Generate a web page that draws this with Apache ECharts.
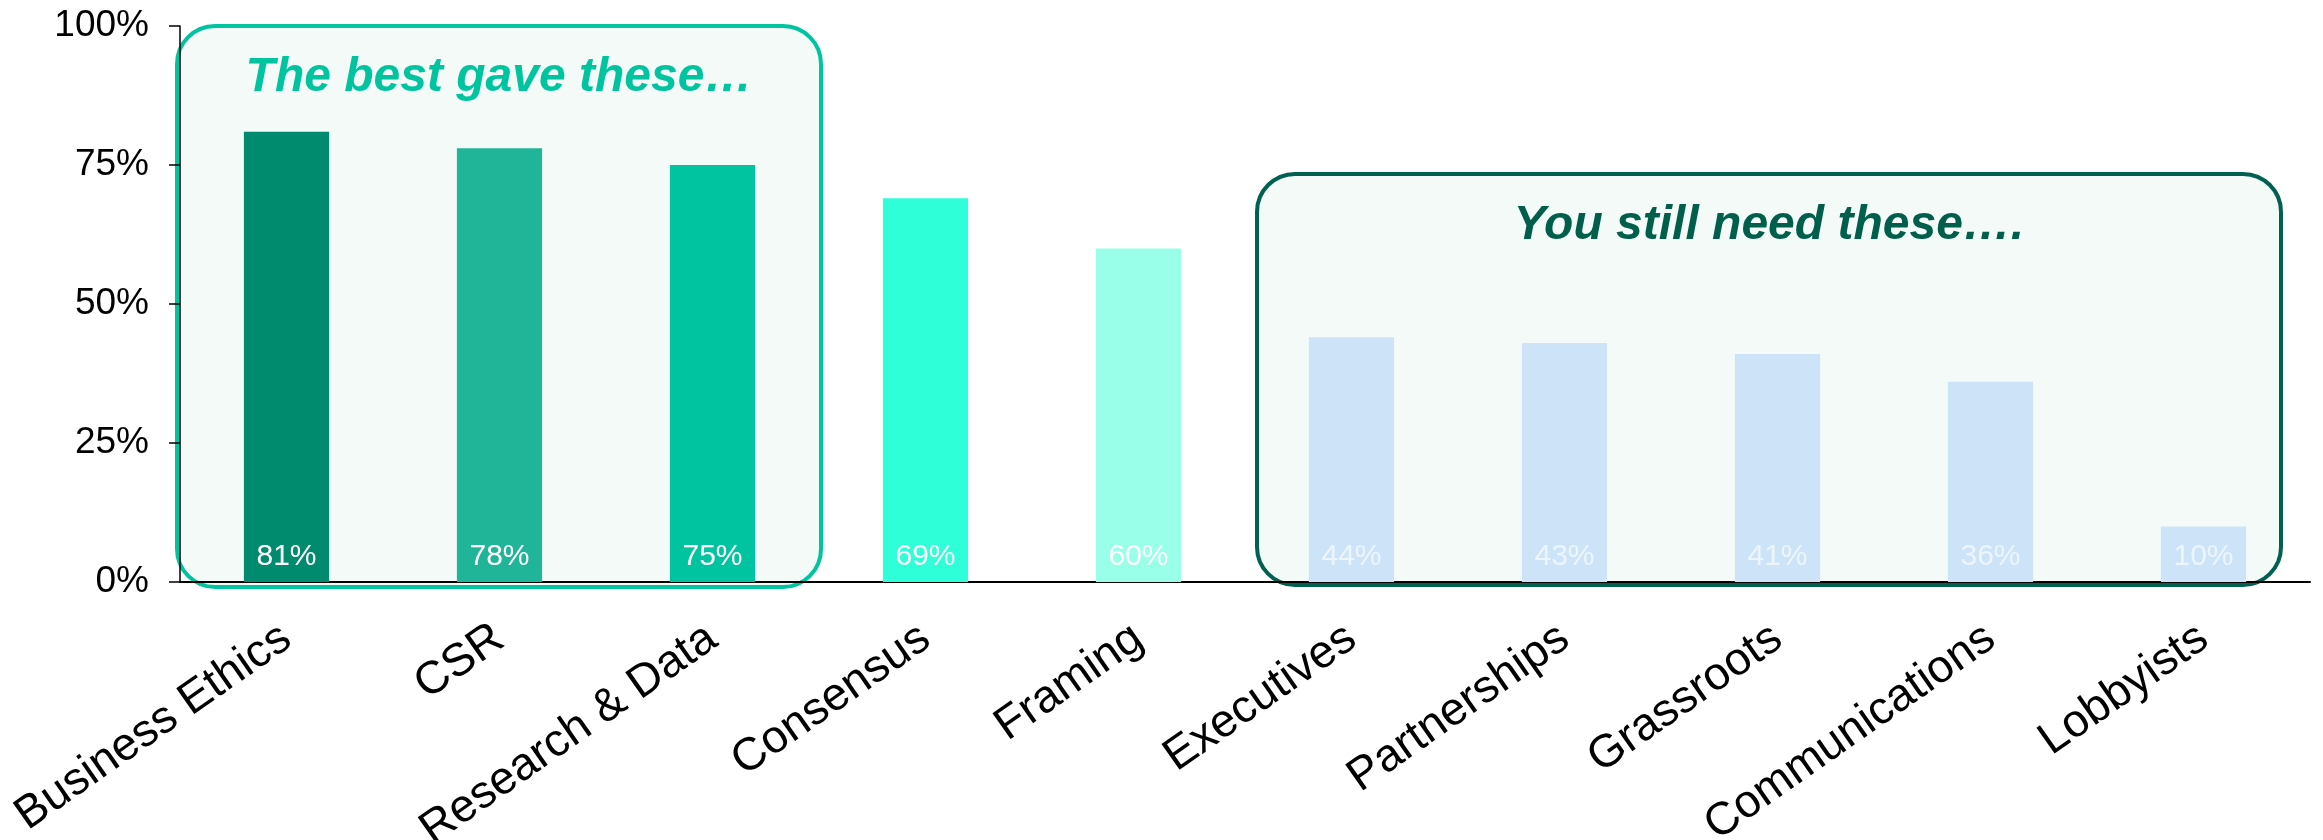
<!DOCTYPE html>
<html>
<head>
<meta charset="utf-8">
<script src="https://cdn.jsdelivr.net/npm/echarts@6/dist/echarts.min.js"></script>
<style>
  html, body { margin: 0; padding: 0; background: #ffffff; }
  #chart { width: 2323px; height: 840px; }
</style>
</head>
<body>
<div id="chart"></div>
<script>
// Share of respondents citing each capability (%)
const categories = ['Business Ethics', 'CSR', 'Research & Data', 'Consensus', 'Framing',
  'Executives', 'Partnerships', 'Grassroots', 'Communications', 'Lobbyists'];
const values = [81, 78, 75, 69, 60, 44, 43, 41, 36, 10];
const barColors = ['#008A6E', '#20B598', '#00C4A0', '#2EFFD9', '#99FFE9',
  '#CDE4F8', '#CDE4F8', '#CDE4F8', '#CDE4F8', '#CDE4F8'];
const labelColors = ['#ffffff', '#ffffff', '#ffffff', '#ffffff', '#ffffff',
  '#EDF5FC', '#EDF5FC', '#EDF5FC', '#EDF5FC', '#EDF5FC'];
const yTicks = [0, 25, 50, 75, 100];
const groupTitles = ['The best gave these…', 'You still need these….'];

const FONT = "'Liberation Sans', Arial, Helvetica, sans-serif";
const chart = echarts.init(document.getElementById('chart'), null, { renderer: 'canvas' });

chart.setOption({
  animation: false,
  backgroundColor: '#ffffff',
  grid: { left: 180, right: 13, top: 26, bottom: 258, containLabel: false, outerBoundsMode: 'none' },
  xAxis: {
    type: 'category',
    data: categories,
    axisLine: { show: true, lineStyle: { color: '#000000', width: 2 } },
    axisTick: { show: false },
    axisLabel: {
      rotate: 35,
      margin: 52,
      fontSize: 46,
      color: '#000000',
      fontFamily: FONT,
      interval: 0
    }
  },
  yAxis: {
    type: 'value',
    min: yTicks[0],
    max: yTicks[yTicks.length - 1],
    interval: 25,
    splitLine: { show: false },
    axisLine: { show: true, lineStyle: { color: '#000000', width: 1.5 } },
    axisTick: { show: true, length: 11, lineStyle: { color: '#000000', width: 1.5 } },
    axisLabel: {
      formatter: '{value}%',
      fontSize: 37,
      margin: 31,
      color: '#000000',
      fontFamily: FONT
    }
  },
  series: [{
    type: 'bar',
    barWidth: '40%',
    z: 2,
    data: values.map((v, i) => ({
      value: v,
      itemStyle: { color: barColors[i] },
      label: { color: labelColors[i] }
    })),
    label: {
      show: true,
      position: 'insideBottom',
      distance: 10,
      formatter: '{c}%',
      fontSize: 30,
      fontFamily: FONT
    }
  }]
});

// Rounded annotation panels behind the two groups of bars
function px(cat, val) {
  return chart.convertToPixel({ xAxisIndex: 0, yAxisIndex: 0 }, [cat, val]);
}
const band = px(1, 0)[0] - px(0, 0)[0];
const edge = i => px(0, 0)[0] - band / 2 + i * band;

function panel(x0, x1, y0, y1, stroke, title, titleColor) {
  return [{
    type: 'rect',
    z: -10,
    silent: true,
    shape: { x: x0, y: y0, width: x1 - x0, height: y1 - y0, r: 38 },
    style: { fill: '#F3FAF8', stroke: stroke, lineWidth: 4 }
  }, {
    type: 'text',
    z: 1,
    silent: true,
    x: (x0 + x1) / 2,
    y: y0 + 52,
    style: {
      text: title,
      fill: titleColor,
      font: "italic bold 48px " + FONT,
      textAlign: 'center',
      textVerticalAlign: 'middle'
    }
  }];
}

const top1 = px(0, 100)[1];
const base = px(0, 0)[1];
const top2 = px(0, 73.4)[1];

chart.setOption({
  graphic: [
    ...panel(edge(0) - 3, edge(3) + 2, top1, base + 5, '#00C4A0', groupTitles[0], '#00C4A0'),
    ...panel(edge(5) + 12, edge(10) - 29, top2, base + 3, '#006150', groupTitles[1], '#005F4B')
  ]
});
</script>
</body>
</html>
